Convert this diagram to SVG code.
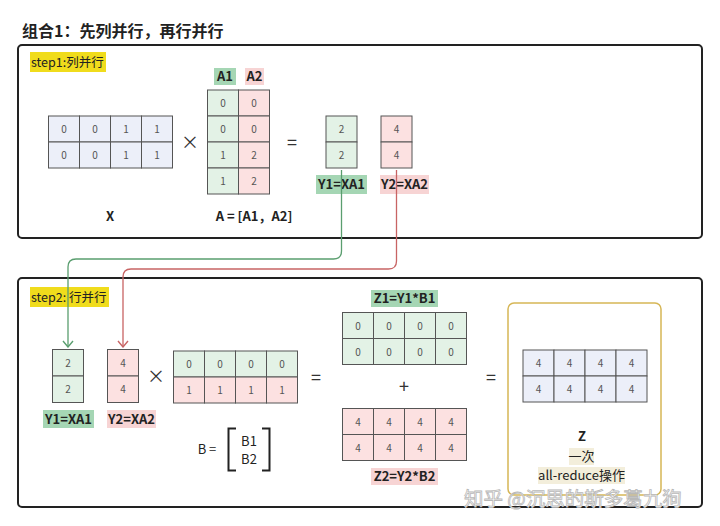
<svg xmlns="http://www.w3.org/2000/svg" width="720" height="526" viewBox="0 0 720 526">
<defs>
<style>
text{font-family:"Noto Sans CJK SC","Noto Sans",sans-serif;fill:#222}
.title{font-size:16px;font-weight:bold}
.frame{fill:none;stroke:#222;stroke-width:2}
.g{fill:#e3f2e6;stroke:#555;stroke-width:1}
.r{fill:#fce1e1;stroke:#555;stroke-width:1}
.b{fill:#eceff9;stroke:#555;stroke-width:1}
.v{font-size:10px;fill:#555;text-anchor:middle}
.lbl{font-size:13px;font-weight:bold;text-anchor:middle}
.gbg{fill:#a5d6b4}
.rbg{fill:#f7d4d4}
.ybg{fill:#f0dc1c}
.cbg{fill:#f3eedb}
.op{font-size:18px;text-anchor:middle;fill:#333}
.step{font-size:12.5px}
.conn{fill:none;stroke-width:1.3}
</style>
<marker id="ag" viewBox="0 0 12 12" refX="11" refY="6" markerWidth="12" markerHeight="12" markerUnits="userSpaceOnUse" orient="auto">
<path d="M5,1 L11,6 L5,11" fill="none" stroke="#5a9e6f" stroke-width="1.4"/>
</marker>
<marker id="ar" viewBox="0 0 12 12" refX="11" refY="6" markerWidth="12" markerHeight="12" markerUnits="userSpaceOnUse" orient="auto">
<path d="M5,1 L11,6 L5,11" fill="none" stroke="#c86464" stroke-width="1.4"/>
</marker>
</defs>
<rect width="720" height="526" fill="#fff"/>
<text class="title" x="22" y="37">组合1：先列并行，再行并行</text>

<g id="box1">
<rect class="frame" x="18" y="45" width="684" height="193" rx="4"/>
<rect class="ybg" x="30" y="52" width="76" height="20"/>
<text class="step" x="31" y="67">step1:列并行</text>
</g>

<g id="X">
<rect class="b" x="48.5" y="116" width="31" height="26"/><rect class="b" x="79.5" y="116" width="31" height="26"/><rect class="b" x="110.5" y="116" width="31" height="26"/><rect class="b" x="141.5" y="116" width="31" height="26"/>
<rect class="b" x="48.5" y="142" width="31" height="26"/><rect class="b" x="79.5" y="142" width="31" height="26"/><rect class="b" x="110.5" y="142" width="31" height="26"/><rect class="b" x="141.5" y="142" width="31" height="26"/>
<text class="v" x="64" y="133">0</text><text class="v" x="95" y="133">0</text><text class="v" x="126" y="133">1</text><text class="v" x="157" y="133">1</text>
<text class="v" x="64" y="159">0</text><text class="v" x="95" y="159">0</text><text class="v" x="126" y="159">1</text><text class="v" x="157" y="159">1</text>
<text class="lbl" x="110" y="221">X</text>
</g>

<text class="op" x="190" y="149">×</text>

<g id="A">
<rect class="gbg" x="214" y="68" width="22" height="17"/><text class="lbl" x="225" y="81">A1</text>
<rect class="rbg" x="245" y="68" width="19" height="17"/><text class="lbl" x="254.5" y="81">A2</text>
<rect class="g" x="207.5" y="90" width="31" height="26"/><rect class="r" x="238.5" y="90" width="31" height="26"/>
<rect class="g" x="207.5" y="116" width="31" height="26"/><rect class="r" x="238.5" y="116" width="31" height="26"/>
<rect class="g" x="207.5" y="142" width="31" height="26"/><rect class="r" x="238.5" y="142" width="31" height="26"/>
<rect class="g" x="207.5" y="168" width="31" height="26"/><rect class="r" x="238.5" y="168" width="31" height="26"/>
<text class="v" x="223" y="107">0</text><text class="v" x="254" y="107">0</text>
<text class="v" x="223" y="133">0</text><text class="v" x="254" y="133">0</text>
<text class="v" x="223" y="159">1</text><text class="v" x="254" y="159">2</text>
<text class="v" x="223" y="185">1</text><text class="v" x="254" y="185">2</text>
<text class="lbl" x="254" y="221">A = [A1，A2]</text>
</g>

<text class="op" x="292" y="149">=</text>

<g id="Y1a">
<rect class="g" x="326" y="116" width="31" height="26"/><rect class="g" x="326" y="142" width="31" height="26"/>
<text class="v" x="341.5" y="133">2</text><text class="v" x="341.5" y="159">2</text>
<rect class="gbg" x="316" y="175" width="51" height="19"/><text class="lbl" x="341.5" y="189">Y1=XA1</text>
</g>
<g id="Y2a">
<rect class="r" x="381" y="116" width="31" height="26"/><rect class="r" x="381" y="142" width="31" height="26"/>
<text class="v" x="396.5" y="133">4</text><text class="v" x="396.5" y="159">4</text>
<rect class="rbg" x="380" y="175" width="49" height="19"/><text class="lbl" x="404.5" y="189">Y2=XA2</text>
</g>

<g id="box2">
<rect class="frame" x="18" y="278" width="684" height="229" rx="4"/>
<rect class="ybg" x="30" y="287" width="79" height="20"/>
<text class="step" x="31" y="302">step2: 行并行</text>
</g>

<g id="Y1b">
<rect class="g" x="52.5" y="349.5" width="31" height="26.5"/><rect class="g" x="52.5" y="376" width="31" height="26.5"/>
<text class="v" x="68" y="366.5">2</text><text class="v" x="68" y="393">2</text>
<rect class="gbg" x="43" y="410" width="51" height="18"/><text class="lbl" x="68.5" y="424">Y1=XA1</text>
</g>
<g id="Y2b">
<rect class="r" x="107.5" y="349.5" width="31" height="26.5"/><rect class="r" x="107.5" y="376" width="31" height="26.5"/>
<text class="v" x="123" y="366.5">4</text><text class="v" x="123" y="393">4</text>
<rect class="rbg" x="107" y="410" width="49" height="18"/><text class="lbl" x="131.5" y="424">Y2=XA2</text>
</g>

<text class="op" x="156" y="383">×</text>

<g id="B">
<rect class="g" x="173.5" y="351" width="31" height="26"/><rect class="g" x="204.5" y="351" width="31" height="26"/><rect class="g" x="235.5" y="351" width="31" height="26"/><rect class="g" x="266.5" y="351" width="31" height="26"/>
<rect class="r" x="173.5" y="377" width="31" height="26"/><rect class="r" x="204.5" y="377" width="31" height="26"/><rect class="r" x="235.5" y="377" width="31" height="26"/><rect class="r" x="266.5" y="377" width="31" height="26"/>
<text class="v" x="189" y="368">0</text><text class="v" x="220" y="368">0</text><text class="v" x="251" y="368">0</text><text class="v" x="282" y="368">0</text>
<text class="v" x="189" y="394">1</text><text class="v" x="220" y="394">1</text><text class="v" x="251" y="394">1</text><text class="v" x="282" y="394">1</text>
<text class="lbl" x="207" y="454" style="font-weight:normal">B =</text>
<path d="M236,428.5 H228.5 V470.5 H236 M262,428.5 H269.5 V470.5 H262" fill="none" stroke="#222" stroke-width="2"/>
<text class="lbl" x="249" y="446" style="font-weight:normal">B1</text>
<text class="lbl" x="249" y="464" style="font-weight:normal">B2</text>
</g>

<text class="op" x="316" y="384">=</text>

<g id="Z1">
<rect class="gbg" x="371" y="290" width="67" height="17"/><text class="lbl" x="404.5" y="303">Z1=Y1*B1</text>
<rect class="g" x="342.5" y="312.5" width="31" height="26"/><rect class="g" x="373.5" y="312.5" width="31" height="26"/><rect class="g" x="404.5" y="312.5" width="31" height="26"/><rect class="g" x="435.5" y="312.5" width="31" height="26"/>
<rect class="g" x="342.5" y="338.5" width="31" height="26"/><rect class="g" x="373.5" y="338.5" width="31" height="26"/><rect class="g" x="404.5" y="338.5" width="31" height="26"/><rect class="g" x="435.5" y="338.5" width="31" height="26"/>
<text class="v" x="358" y="329.5">0</text><text class="v" x="389" y="329.5">0</text><text class="v" x="420" y="329.5">0</text><text class="v" x="451" y="329.5">0</text>
<text class="v" x="358" y="355.5">0</text><text class="v" x="389" y="355.5">0</text><text class="v" x="420" y="355.5">0</text><text class="v" x="451" y="355.5">0</text>
</g>

<text class="op" x="404" y="393">+</text>

<g id="Z2">
<rect class="r" x="342.5" y="408.5" width="31" height="26"/><rect class="r" x="373.5" y="408.5" width="31" height="26"/><rect class="r" x="404.5" y="408.5" width="31" height="26"/><rect class="r" x="435.5" y="408.5" width="31" height="26"/>
<rect class="r" x="342.5" y="434.5" width="31" height="26"/><rect class="r" x="373.5" y="434.5" width="31" height="26"/><rect class="r" x="404.5" y="434.5" width="31" height="26"/><rect class="r" x="435.5" y="434.5" width="31" height="26"/>
<text class="v" x="358" y="425.5">4</text><text class="v" x="389" y="425.5">4</text><text class="v" x="420" y="425.5">4</text><text class="v" x="451" y="425.5">4</text>
<text class="v" x="358" y="451.5">4</text><text class="v" x="389" y="451.5">4</text><text class="v" x="420" y="451.5">4</text><text class="v" x="451" y="451.5">4</text>
<rect class="rbg" x="371" y="468" width="67" height="17"/><text class="lbl" x="404.5" y="481">Z2=Y2*B2</text>
</g>

<text class="op" x="491" y="384">=</text>

<g id="Z">
<rect x="508" y="303" width="153" height="192" rx="6" fill="none" stroke="#d6b656" stroke-width="1.5"/>
<rect class="b" x="523" y="350" width="31" height="26"/><rect class="b" x="554" y="350" width="31" height="26"/><rect class="b" x="585" y="350" width="31" height="26"/><rect class="b" x="616" y="350" width="31" height="26"/>
<rect class="b" x="523" y="376" width="31" height="26"/><rect class="b" x="554" y="376" width="31" height="26"/><rect class="b" x="585" y="376" width="31" height="26"/><rect class="b" x="616" y="376" width="31" height="26"/>
<text class="v" x="538.5" y="367">4</text><text class="v" x="569.5" y="367">4</text><text class="v" x="600.5" y="367">4</text><text class="v" x="631.5" y="367">4</text>
<text class="v" x="538.5" y="393">4</text><text class="v" x="569.5" y="393">4</text><text class="v" x="600.5" y="393">4</text><text class="v" x="631.5" y="393">4</text>
<text class="lbl" x="582" y="441">Z</text>
<rect class="cbg" x="569" y="448" width="25" height="17"/><text x="581.5" y="461" style="font-size:13px;text-anchor:middle">一次</text>
<rect class="cbg" x="538" y="467" width="87" height="17"/><text x="581.5" y="480" style="font-size:13px;text-anchor:middle">all-reduce操作</text>
</g>

<g id="connectors">
<path class="conn" stroke="#5a9e6f" marker-end="url(#ag)" d="M341.5,170 V251 Q341.5,259 333.5,259 H76 Q68,259 68,267 V347"/>
<path class="conn" stroke="#c86464" marker-end="url(#ar)" d="M396.5,170 V261 Q396.5,269 388.5,269 H131 Q123,269 123,277 V347"/>
</g>

<text x="464" y="506" style="font-size:19.5px;fill:#fff;stroke:#b8b8b8;stroke-width:0.8">知乎 @沉思的斯多葛九狗</text>
</svg>
